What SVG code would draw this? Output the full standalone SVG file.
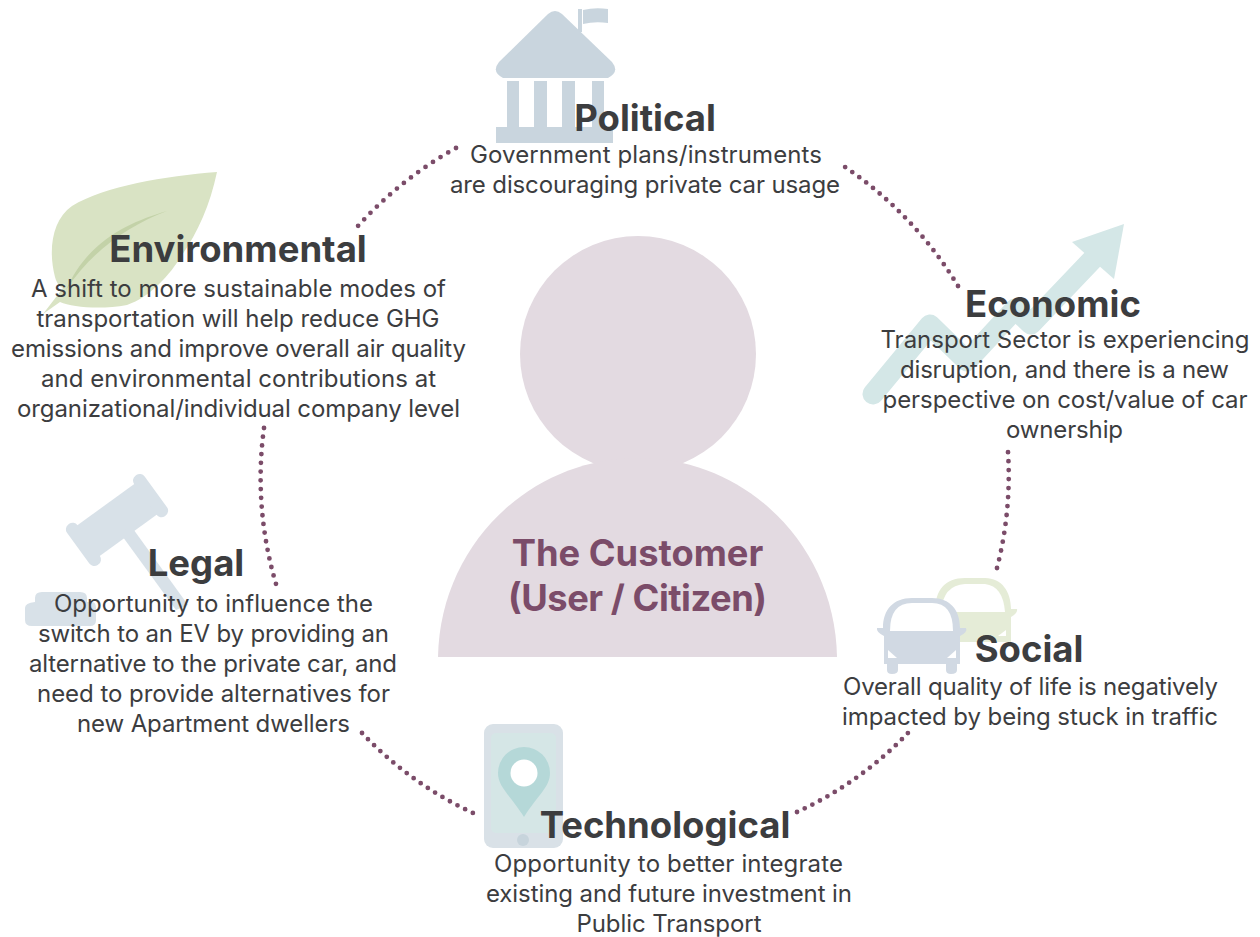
<svg xmlns="http://www.w3.org/2000/svg" width="1260" height="937" viewBox="0 0 1260 937">
<style>
text{font-family:Inter,"Noto Sans",sans-serif;text-anchor:middle;fill:#3c3d3f}
.t{font-size:36.5px;font-weight:700}
.b{font-size:24px;font-weight:400}
.c{font-size:36.3px;font-weight:700;fill:#7b4c69}
.dots{fill:none;stroke:#7b4c69;stroke-width:4.8;stroke-linecap:round;stroke-dasharray:0 1}
</style>
<rect width="1260" height="937" fill="#fff"/>
<g id="customer">
<circle cx="638" cy="354" r="118" fill="#e3dae1"/>
<path d="M438 657C440 545 530 458 638 458S835 545 837 657Z" fill="#e3dae1"/>
<text class="c" x="637.500" y="566">The Customer</text>
<text class="c" x="637.500" y="611" textLength="259">(User / Citizen)</text>
</g>
<g id="connectors">
<path class="dots" pathLength="14.02" d="M456 148A386 386 0 0 0 358 226"/>
<path class="dots" pathLength="18.02" d="M264 428A372 372 0 0 0 276 584"/>
<path class="dots" pathLength="16.02" d="M362 733A365 365 0 0 0 473 813"/>
<path class="dots" pathLength="16.02" d="M797 812A362 362 0 0 0 908 733"/>
<path class="dots" pathLength="13.02" d="M997 568A372 372 0 0 0 1008 452"/>
<path class="dots" pathLength="19.02" d="M958 286A384 384 0 0 0 845 167"/>
</g>
<g id="political">
<path d="M548 14Q555 8 562 14L612 62Q620 72 608 78H503Q491 72 499 62Z" fill="#c9d5de"/>
<path d="M578 9H582V32H578ZM583 10Q595 7 608 9V23Q595 21 583 24Z" fill="#c9d5de"/>
<path d="M507 81H519V127H507ZM534 81H547V127H534ZM562 81H575V127H562ZM592 81H604V127H592ZM496 127H613V143H496Z" fill="#c9d5de"/>
<text class="t" x="645" y="130.500">Political</text>
<text class="b" x="646" y="163" textLength="352">Government plans/instruments</text>
<text class="b" x="645" y="193" textLength="390">are discouraging private car usage</text>
</g>
<g id="environmental">
<path d="M217 172C165 176 105 186 72 206C52 220 48 250 55 277C57 284 60 287 63 288L43 314L60 302C72 307 100 310 127 305C150 297 170 275 182 255C198 232 210 205 217 172Z" fill="#d9e3c4"/>
<path d="M167 211C130 222 88 240 66 290C92 250 130 225 167 211Z" fill="#c3d2a8"/>
<text class="t" x="238" y="261.500">Environmental</text>
<text class="b" x="238.500" y="297" textLength="415">A shift to more sustainable modes of</text>
<text class="b" x="238" y="327" textLength="403">transportation will help reduce GHG</text>
<text class="b" x="238.500" y="357" textLength="455">emissions and improve overall air quality</text>
<text class="b" x="238.500" y="387" textLength="395">and environmental contributions at</text>
<text class="b" x="238.500" y="417" textLength="443">organizational/individual company level</text>
</g>
<g id="legal">
<g transform="translate(117 520) rotate(-36)" fill="#d8e1e8">
<rect x="-42" y="-19" width="84" height="38"/>
<rect x="-48" y="-25" width="13" height="50" rx="6"/>
<rect x="35" y="-25" width="13" height="50" rx="6"/>
</g>
<path d="M120 533L131 526L188 605L176 610Z" fill="#d8e1e8"/>
<path d="M35 598Q35 592 42 592H80Q87 592 87 598V602H92Q96 602 96 608V620Q96 626 90 626H32Q25 626 25 620V608Q25 603 35 602Z" fill="#d8e1e8"/>
<text class="t" x="196" y="575.500">Legal</text>
<text class="b" x="213.500" y="612" textLength="319">Opportunity to influence the</text>
<text class="b" x="213.500" y="642" textLength="351">switch to an EV by providing an</text>
<text class="b" x="213" y="672" textLength="368">alternative to the private car, and</text>
<text class="b" x="213.500" y="702" textLength="353">need to provide alternatives for</text>
<text class="b" x="213.500" y="732" textLength="273">new Apartment dwellers</text>
</g>
<g id="economic">
<path d="M873 394L930 325L967 361L1015 309L1031 324L1092 260" fill="none" stroke="#d4e7e7" stroke-width="21" stroke-linecap="round" stroke-linejoin="round"/>
<path d="M1124 224L1072 242L1114 279Z" fill="#d4e7e7"/>
<text class="t" x="1053" y="316.500">Economic</text>
<text class="b" x="1065" y="348" textLength="369">Transport Sector is experiencing</text>
<text class="b" x="1064.500" y="378" textLength="329">disruption, and there is a new</text>
<text class="b" x="1065" y="408" textLength="365">perspective on cost/value of car</text>
<text class="b" x="1064.500" y="438" textLength="117">ownership</text>
</g>
<g id="social">
<path d="M935 612C935 590 945 578 965 578H985C1002 578 1011 592 1011 609L1017 609Q1018 613 1011 617V642H935V617Q928 613 928 609Z" fill="#e5ecd7"/>
<path d="M941 612Q943 585 965 584H985Q1003 586 1005 612Z" fill="#fff"/>
<path d="M1006 630V636H998Z" fill="#fff"/>
<path d="M883 628C883 610 893 598 912 598H932C950 598 960 610 960 628L966 628Q968 632 960 636V664H957V670Q957 674 951 674Q946 674 946 670V664H898V670Q898 674 892 674Q887 674 887 670V664H884V636Q876 632 877 628Z" fill="#d1d9e3"/>
<path d="M890 631Q890 603 912 603H932Q953 603 953 631Z" fill="#fff"/>
<path d="M888 650L897 658H888ZM956 650L947 658H956Z" fill="#fff"/>
<text class="t" x="1029" y="661.500">Social</text>
<text class="b" x="1030.500" y="695" textLength="375">Overall quality of life is negatively</text>
<text class="b" x="1030" y="725" textLength="376">impacted by being stuck in traffic</text>
</g>
<g id="technological">
<rect x="484" y="724" width="79" height="124" rx="9" fill="#d9e1e7"/>
<rect x="491" y="733" width="65" height="100" rx="5" fill="#d5e6e6"/>
<path d="M524 817C510 795 498 787 498 773A26 26 0 0 1 550 773C550 787 538 795 524 817Z" fill="#b5d8d8"/>
<circle cx="524" cy="773" r="13.500" fill="#fff"/>
<circle cx="523" cy="840" r="6" fill="#c7d4dc"/>
<text class="t" x="665" y="837.500">Technological</text>
<text class="b" x="668.500" y="872" textLength="349">Opportunity to better integrate</text>
<text class="b" x="669" y="902" textLength="366">existing and future investment in</text>
<text class="b" x="669" y="932" textLength="185">Public Transport</text>
</g>
</svg>
